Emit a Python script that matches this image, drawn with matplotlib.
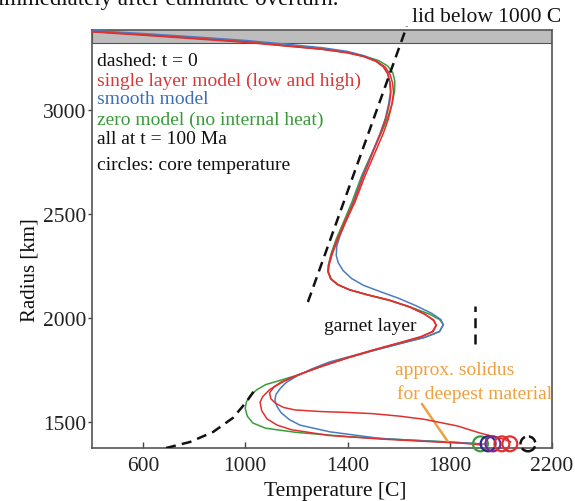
import matplotlib
matplotlib.use('Agg')
import matplotlib.pyplot as plt

plt.rcParams['font.family'] = ['Liberation Serif', 'DejaVu Serif']

# profiles at t = 100 Ma, temperature [C] vs radius [km]
red_low_T = [400, 600, 800, 1000, 1150, 1300, 1400, 1462, 1510, 1540, 1557, 1566, 1570, 1564, 1550, 1530, 1497, 1462, 1425, 1388,
             1360, 1338, 1326, 1324, 1334, 1360, 1405, 1478, 1560, 1640, 1700, 1735, 1748, 1735, 1690, 1610, 1500, 1400, 1300, 1210,
             1140, 1095, 1068, 1058, 1064, 1085, 1125, 1180, 1330, 1530, 1700, 1850, 1925]
red_low_R = [3378, 3362, 3346, 3328, 3310, 3293, 3276, 3258, 3235, 3208, 3175, 3135, 3087, 3030, 2960, 2890, 2790, 2683, 2560, 2460,
             2380, 2310, 2255, 2225, 2190, 2162, 2137, 2112, 2088, 2055, 2020, 1990, 1965, 1935, 1910, 1882, 1845, 1808, 1768, 1728,
             1692, 1655, 1622, 1595, 1555, 1515, 1485, 1463, 1435, 1418, 1407, 1398, 1390]

red_high_T = [400, 600, 800, 1000, 1150, 1300, 1400, 1465, 1515, 1548, 1566, 1576, 1580, 1574, 1560, 1540, 1505, 1468, 1430, 1392,
              1363, 1341, 1328, 1325, 1336, 1363, 1409, 1483, 1565, 1645, 1703, 1738, 1746, 1732, 1686, 1605, 1495, 1395, 1295, 1210,
              1150, 1112, 1095, 1100, 1118, 1150, 1195, 1300, 1400, 1500, 1605, 1700, 1830, 1918, 2010, 2038]
red_high_R = [3376, 3360, 3343, 3326, 3309, 3292, 3275, 3257, 3234, 3206, 3172, 3132, 3085, 3028, 2958, 2888, 2788, 2682, 2560, 2460,
              2380, 2310, 2255, 2222, 2188, 2160, 2135, 2110, 2085, 2052, 2018, 1990, 1965, 1935, 1910, 1882, 1845, 1808, 1768, 1728,
              1695, 1668, 1640, 1612, 1590, 1570, 1558, 1550, 1546, 1540, 1528, 1513, 1481, 1447, 1418, 1405]

smooth_T = [400, 600, 800, 1000, 1150, 1300, 1400, 1462, 1510, 1540, 1557, 1565, 1568, 1561, 1548, 1528, 1495, 1458, 1425, 1395,
            1372, 1358, 1356, 1364, 1383, 1416, 1463, 1530, 1600, 1670, 1730, 1765, 1775, 1760, 1705, 1615, 1505, 1400, 1330, 1260,
            1202, 1160, 1136, 1120, 1116, 1124, 1140, 1172, 1214, 1330, 1527, 1700, 1850, 1950]
smooth_R = [3382, 3368, 3352, 3335, 3318, 3300, 3282, 3262, 3238, 3210, 3176, 3135, 3087, 3030, 2960, 2890, 2790, 2683, 2565, 2470,
            2400, 2346, 2300, 2265, 2228, 2190, 2157, 2126, 2095, 2058, 2022, 1993, 1968, 1935, 1908, 1880, 1845, 1812, 1789, 1755,
            1721, 1690, 1660, 1632, 1605, 1575, 1545, 1512, 1485, 1453, 1421, 1409, 1400, 1393]

zero_T = [400, 600, 800, 1000, 1150, 1300, 1400, 1465, 1522, 1557, 1577, 1585, 1584, 1574, 1556, 1532, 1494, 1455, 1418, 1384,
          1356, 1336, 1325, 1323, 1334, 1362, 1410, 1482, 1562, 1648, 1718, 1760, 1775, 1760, 1705, 1615, 1505, 1400, 1300, 1210,
          1136, 1080, 1045, 1018, 1004, 1000, 1008, 1030, 1080, 1200, 1400, 1600, 1800, 1915]
zero_R = [3380, 3364, 3348, 3330, 3312, 3295, 3278, 3260, 3238, 3212, 3180, 3140, 3090, 3030, 2960, 2890, 2790, 2683, 2560, 2460,
          2380, 2310, 2255, 2222, 2188, 2160, 2135, 2110, 2085, 2052, 2020, 1993, 1968, 1935, 1908, 1880, 1845, 1808, 1768, 1728,
          1700, 1680, 1655, 1625, 1595, 1565, 1528, 1495, 1470, 1450, 1430, 1416, 1404, 1395]

# t = 0 (dashed)
init_upper_T = [1245, 1632]
init_upper_R = [2077, 3403]
init_lower_T = [690, 784, 874, 952, 1004, 1046]
init_lower_R = [1375, 1404, 1452, 1520, 1596, 1670]
garnet_T = [1900, 1900]
garnet_R = [1875, 2060]

# core temperatures
core_T = [1920, 1950, 1969, 2004, 2035]
core_colors = ['#3a9d3a', '#2a2a90', '#7a2a8a', '#e03030', '#e03030']
core_init_T = 2106
core_R = 1395

RED = '#e03030'
BLUE = '#4a7cc4'
GREEN = '#3a9d3a'
ORANGE = '#f0a040'


def draw_profiles(ax):
    ax.axhspan(3322, 3400, facecolor='#bdbdbd', edgecolor='#555555', lw=0.8, zorder=1)
    ax.plot(zero_T, zero_R, color=GREEN, lw=1.1, zorder=3)
    ax.plot(smooth_T, smooth_R, color=BLUE, lw=1.1, zorder=3)
    ax.plot(red_high_T, red_high_R, color=RED, lw=1.1, zorder=4)
    ax.plot(red_low_T, red_low_R, color=RED, lw=1.1, zorder=4)
    dash = (0, (4, 2.5))
    ax.plot(init_upper_T, init_upper_R, color='#111111', lw=1.8, ls=dash, zorder=5, clip_on=False)
    ax.plot(init_lower_T, init_lower_R, color='#111111', lw=1.8, ls=dash, zorder=5)
    ax.plot(garnet_T, garnet_R, color='#111111', lw=1.8, ls=dash, zorder=5)
    ax.scatter(core_T, [core_R] * len(core_T), s=115, facecolors='none', edgecolors=core_colors,
               linewidths=1.6, zorder=6, clip_on=False)
    ax.scatter([core_init_T], [core_R], s=115, facecolors='none', edgecolors='#111111',
               linewidths=1.8, linestyles='--', zorder=6, clip_on=False)


def draw_labels(fig, ax):
    fs = 14
    x0 = 420
    lines = [('dashed: t = 0', '#111111', 3236),
             ('single layer model (low and high)', '#d83a3a', 3142),
             ('smooth model', '#3d6fb8', 3054),
             ('zero model (no internal heat)', '#3a9a3a', 2954),
             ('all at t = 100 Ma', '#111111', 2863),
             ('circles: core temperature', '#111111', 2740)]
    for txt, col, r in lines:
        ax.text(x0, r, txt, color=col, fontsize=fs, va='center', ha='left')
    ax.text(1488, 1965, 'garnet layer', fontsize=fs, va='center', ha='center', color='#111111')
    ax.text(1586, 1752, 'approx. solidus', fontsize=fs, va='center', ha='left', color=ORANGE)
    ax.text(1592, 1641, 'for deepest material', fontsize=fs, va='center', ha='left', color=ORANGE)
    ax.annotate('', xy=(1800, 1392), xytext=(1685, 1598),
                arrowprops=dict(arrowstyle='-', color=ORANGE, lw=1.8))

    fig.text(0.847, 0.965, 'lid below 1000 C', fontsize=15.5, ha='center', va='center', color='#111111')
    fig.text(-0.004, 1 - 5 / 502, 'immediately after cumulate overturn.', fontsize=16.5,
             ha='left', va='baseline', color='#111111')
    fig.text(0.583, 0.02, 'Temperature [C]', fontsize=15.5, ha='center', va='center', color='#111111')
    fig.text(0.052, 0.462, 'Radius [km]', fontsize=15, ha='center', va='center', rotation=90, color='#111111')


def assemble():
    fig = plt.figure(figsize=(5.75, 5.02), dpi=100)
    ax = fig.add_axes([91.9 / 575, 1 - 449 / 502, (552 - 91.9) / 575, (449 - 31) / 502])
    ax.set_xlim(400, 2200)
    ax.set_ylim(1375, 3385)
    ax.set_xticks([600, 1000, 1400, 1800, 2200])
    ax.set_yticks([1500, 2000, 2500, 3000])
    ax.tick_params(axis='x', direction='in', length=4, width=1, labelsize=15.5, pad=6, colors='#444444',
                   labelcolor='#222222')
    ax.tick_params(axis='y', direction='out', length=3, width=1, labelsize=15.5, pad=1, colors='#444444',
                   labelcolor='#222222')
    for s in ax.spines.values():
        s.set_color('#555555')
        s.set_linewidth(1.2)
    draw_profiles(ax)
    draw_labels(fig, ax)
    fig.savefig('out.png', dpi=100)


if __name__ == '__main__':
    assemble()
